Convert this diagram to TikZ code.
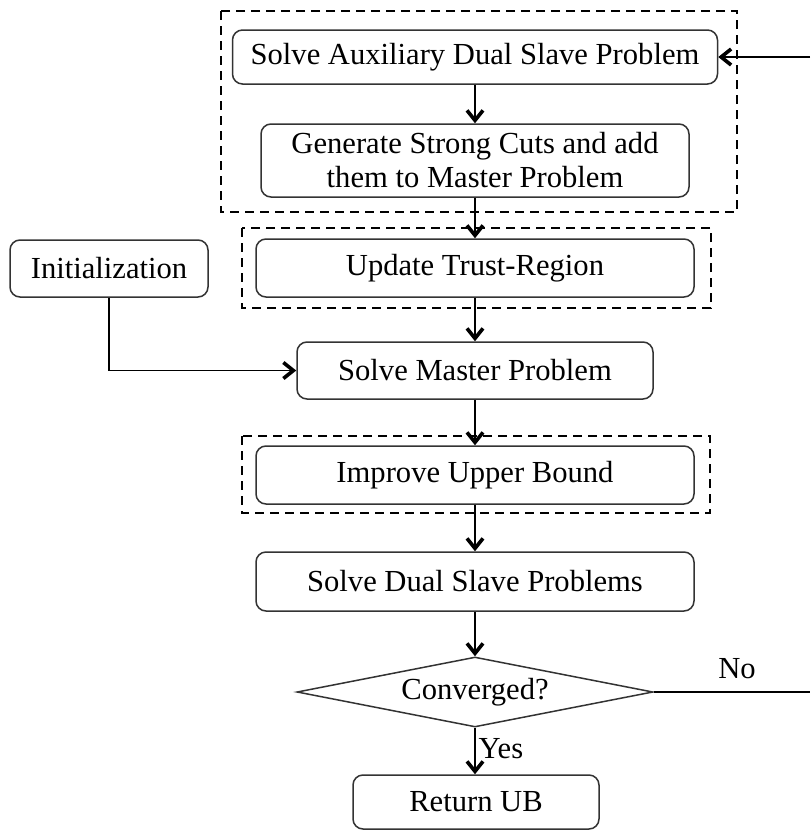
\documentclass[tikz,border=0pt]{standalone}
\usepackage{fontspec}
\setmainfont{Liberation Serif}
\usetikzlibrary{arrows.meta,shapes.geometric}
\begin{document}
\begin{tikzpicture}[x=0.5pt,y=-0.5pt,
  every node/.style={font=\fontsize{15.3}{17}\selectfont},
  box/.style={draw=black!80, line width=0.75pt, rounded corners=5pt, inner sep=0pt, align=center},
  grp/.style={draw=black, line width=1.1pt, dash pattern=on 4.5pt off 3pt},
  arr/.style={draw=black, line width=0.65pt, -{Straight Barb[length=5pt,width=8pt,line width=1.8pt]}},
  conn/.style={draw=black, line width=0.65pt}]
\useasboundingbox (0,0) rectangle (810,831);
% group frames
\draw[grp] (221,11) rectangle (737,212);
\draw[grp] (242,228) rectangle (711,308);
\draw[grp] (242,436) rectangle (710,513);
% nodes
\node[box, minimum width=242.5pt, minimum height=27pt] (aux) at (475,57) {Solve Auxiliary Dual Slave Problem};
\node[box, minimum width=214pt, minimum height=36.5pt] (gen) at (475,160.5) {Generate Strong Cuts and add\\them to Master Problem};
\node[box, minimum width=219pt, minimum height=29pt] (upd) at (475,268) {Update Trust-Region};
\node[box, minimum width=99pt, minimum height=28.5pt] (init) at (109,268.5) {Initialization};
\node[box, minimum width=178pt, minimum height=28.5pt] (master) at (475,370.5) {Solve Master Problem};
\node[box, minimum width=219pt, minimum height=29pt] (imp) at (475,475) {Improve Upper Bound};
\node[box, minimum width=219pt, minimum height=29.5pt] (dual) at (475,581.5) {Solve Dual Slave Problems};
\node[diamond, draw=black!80, line width=0.75pt, inner sep=0pt, aspect=5, minimum width=178pt, minimum height=35pt] (conv) at (475,692) {Converged?};
\node[box, minimum width=123pt, minimum height=27pt] (ret) at (476,802) {Return UB};
\coordinate (noend) at (810,692);
\coordinate (topend) at (810,57);
\node (nolab) at (737,669) {No};
% connectors
\draw[arr] (aux) -- (gen);
\draw[arr] (gen) -- (upd);
\draw[arr] (upd) -- (master);
\draw[arr] (master) -- (imp);
\draw[arr] (imp) -- (dual);
\draw[arr] (dual) -- (conv);
\draw[arr] (conv.south) -- node[right, inner sep=1.5pt, pos=0.45] (yeslab) {Yes} (conv.south |- ret.north);
\draw[arr] (init.south) |- (master.west);
\draw[conn] (conv.east) -- (noend);
\draw[arr] (topend) -- (aux.east);
\end{tikzpicture}
\end{document}
